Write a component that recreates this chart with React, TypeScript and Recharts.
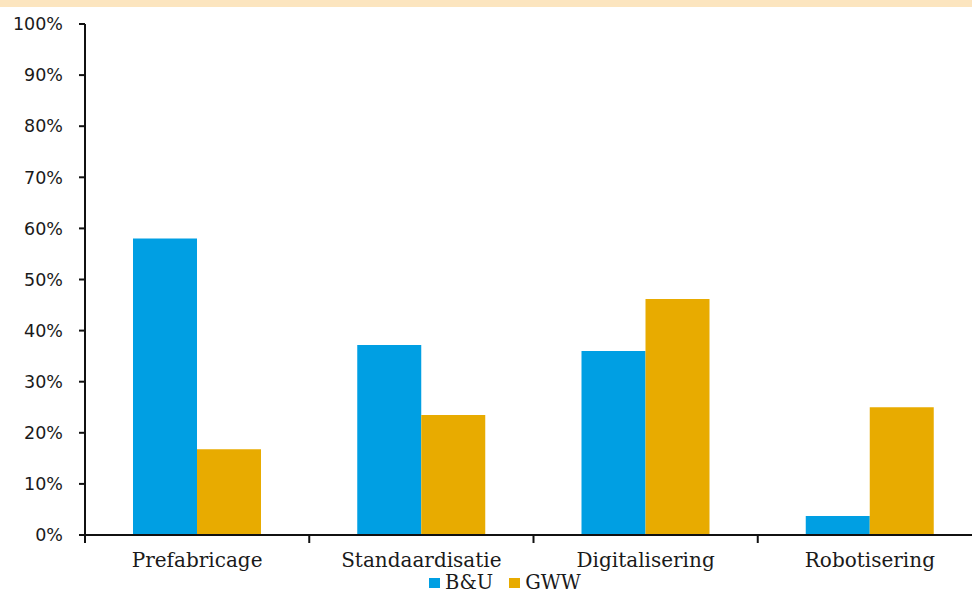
import React from "react";
import { BarChart, Bar, XAxis, YAxis, Legend } from "recharts";

const categories = ["Prefabricage", "Standaardisatie", "Digitalisering", "Robotisering"];
const buValues = [58, 37.2, 36, 3.7];
const gwwValues = [16.8, 23.5, 46.2, 25];
const yTicks = [0, 10, 20, 30, 40, 50, 60, 70, 80, 90, 100];

const data = categories.map((name, i) => ({ name, bu: buValues[i], gww: gwwValues[i] }));

const CHART_W = 990;
const CHART_H = 597;
const LEGEND_H = 20;
const X_H = 30;
const MARGIN = { top: 24, right: 8, left: 0, bottom: 62 - LEGEND_H - X_H };
const Y_W = 85;
const BAND = (CHART_W - MARGIN.left - MARGIN.right - Y_W) / categories.length;

const BLUE = "#009FE3";
const GOLD = "#E8AB00";
const sans = "'DejaVu Sans', Verdana, sans-serif";
const serif = "'DejaVu Serif', Georgia, serif";

// category label centred in its band, with a tick mark at the band's left edge
function CategoryTick({ x, y, payload }: any) {
  const left = x - BAND / 2;
  return (
    <g>
      <line x1={left} y1={y - 7} x2={left} y2={y} stroke="#111" strokeWidth={2} />
      <text x={x} y={y + 24} textAnchor="middle" fontFamily={serif} fontSize={20} fill="#1a1a1a">
        {payload.value}
      </text>
    </g>
  );
}

function LegendContent() {
  const items = [
    { label: "B&U", color: BLUE },
    { label: "GWW", color: GOLD },
  ];
  return (
    <div
      style={{
        display: "flex",
        justifyContent: "center",
        gap: 16,
        height: LEGEND_H,
        lineHeight: `${LEGEND_H}px`,
        fontFamily: serif,
        fontSize: 19.5,
        color: "#1a1a1a",
      }}
    >
      {items.map((it) => (
        <span key={it.label} style={{ display: "flex", alignItems: "center" }}>
          <span style={{ width: 11, height: 10, background: it.color, marginRight: 5, display: "inline-block" }} />
          {it.label}
        </span>
      ))}
    </div>
  );
}

export default function App() {
  return (
    <div style={{ position: "fixed", left: 0, top: 0, width: 972, height: 597, overflow: "hidden", background: "#fff" }}>
      <div style={{ position: "absolute", left: 0, top: 0, width: 972, height: 7, background: "#FCE5BF" }} />
      <BarChart width={CHART_W} height={CHART_H} data={data} margin={MARGIN} barCategoryGap={48} barGap={0}>
        <XAxis
          dataKey="name"
          axisLine={{ stroke: "#111", strokeWidth: 2 }}
          tickLine={false}
          tick={<CategoryTick />}
          interval={0}
          height={X_H}
        />
        <YAxis
          width={Y_W}
          domain={[0, 100]}
          ticks={yTicks}
          interval={0}
          tickFormatter={(v) => `${v}%`}
          axisLine={{ stroke: "#111", strokeWidth: 2 }}
          tickLine={{ stroke: "#111", strokeWidth: 2 }}
          tickSize={6}
          tickMargin={16}
          tick={{ fontFamily: sans, fontSize: 17.5, fill: "#1a1a1a" }}
        />
        <Legend
          verticalAlign="bottom"
          content={<LegendContent />}
          wrapperStyle={{ left: 0, width: 1010, top: 573, height: LEGEND_H }}
        />
        <Bar dataKey="bu" name="B&U" fill={BLUE} isAnimationActive={false} />
        <Bar dataKey="gww" name="GWW" fill={GOLD} isAnimationActive={false} />
      </BarChart>
    </div>
  );
}
